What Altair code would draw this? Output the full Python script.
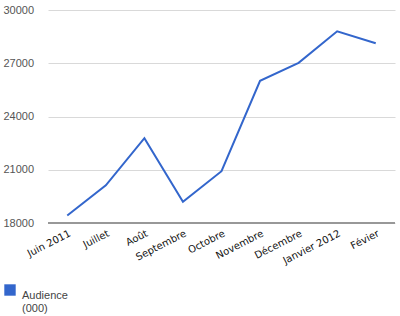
import altair as alt
import pandas as pd

months = ["Juin 2011", "Juillet", "Août", "Septembre", "Octobre", "Novembre",
          "Décembre", "Janvier 2012", "Févier"]
audience = [18420, 20120, 22780, 19200, 20920, 26010, 27020, 28800, 28130]
y_ticks = [18000, 21000, 24000, 27000, 30000]

df = pd.DataFrame({"mois": months, "audience": audience, "serie": ["Audience (000)"] * len(months)})

chart = alt.Chart(df).mark_line(strokeWidth=2).encode(
    x=alt.X("mois:N", sort=months, title=None,
            scale=alt.Scale(paddingOuter=0.5),
            axis=alt.Axis(labelAngle=-27, labelAlign="right", labelBaseline="top",
                          ticks=False, domain=False, grid=False, labelPadding=5,
                          labelFont="DejaVu Sans", labelFontSize=10,
                          labelFontWeight="normal", labelColor="#111111")),
    y=alt.Y("audience:Q", title=None,
            scale=alt.Scale(domain=[18000, 30000], nice=False, zero=False),
            axis=alt.Axis(values=y_ticks, ticks=False, domain=False, labelAlign="left",
                          labelPadding=45, labelFont="Liberation Sans", labelFontSize=11,
                          labelColor="#555555", gridColor="#d9d9d9", format="d")),
    color=alt.Color("serie:N", scale=alt.Scale(range=["#3366CC"]), title=None,
                    legend=alt.Legend(orient="none", legendX=-44, legendY=274,
                                      symbolType="square", symbolSize=130,
                                      symbolStrokeWidth=0, symbolFillColor="#3366CC",
                                      labelExpr="['Audience', '(000)']",
                                      labelFont="Liberation Sans", labelFontSize=11,
                                      labelColor="#444444", labelBaseline="top",
                                      labelOffset=6))
)

base = alt.Chart(df).mark_rule(color="#999999", strokeWidth=1.5).encode(
    y=alt.datum(18000)
)

final = alt.layer(chart, base).properties(
    width=347, height=213,
    autosize=alt.AutoSizeParams(type="none"),
    padding={"left": 48, "top": 10, "right": 5, "bottom": 93},
).configure_view(stroke=None)

final.save("out.html", embed_options={"renderer": "svg", "actions": False})
